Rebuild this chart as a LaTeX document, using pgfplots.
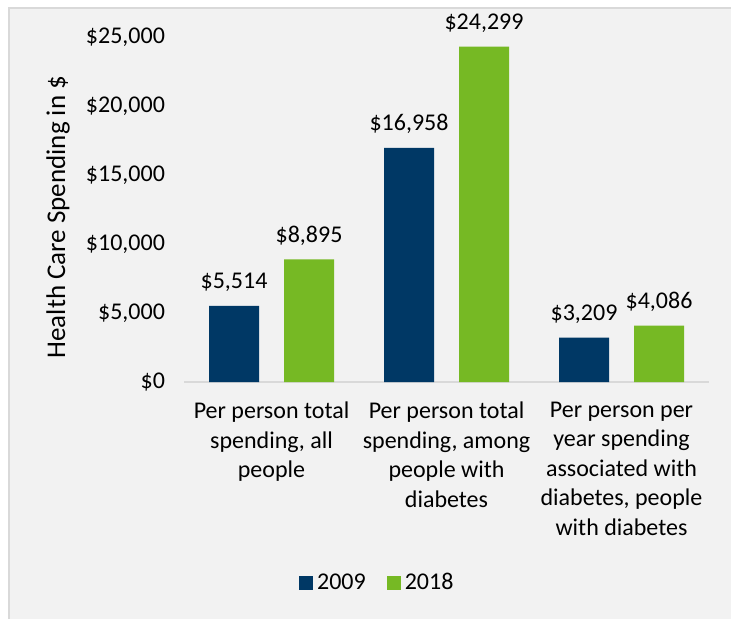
\documentclass[border=0pt]{standalone}
\usepackage{pgfplots}
\pgfplotsset{compat=1.18}
\usepackage{fontspec}
\setmainfont{Carlito}
\definecolor{navy}{RGB}{0,56,101}
\definecolor{leaf}{RGB}{118,185,36}
\definecolor{bg}{RGB}{242,242,242}
\definecolor{frame}{RGB}{217,217,217}

\begin{document}
\begin{tikzpicture}
\path[use as bounding box] (0,0) rectangle (365.5pt,-309.5pt);
\fill[bg] (4pt,-3.5pt) rectangle (365.5pt,-309.5pt);
\draw[frame, line width=1pt] (4.5pt,-309.5pt) -- (4.5pt,-4pt) -- (365.5pt,-4pt);
\begin{axis}[
    at={(92pt,-191pt)}, anchor=south west,
    scale only axis,
    width=262.5pt, height=172.5pt,
    ybar=12.5pt, bar width=25pt,
    xmin=-0.5, xmax=2.5,
    ymin=0, ymax=25000,
    xtick=data,
    xticklabels={{Per person total\\spending, all\\people},
                 {Per person total\\spending, among\\people with\\diabetes},
                 {Per person per\\year spending\\associated with\\diabetes, people\\with diabetes}},
    xticklabel style={align=center, anchor=north, yshift=-6.5pt,
                      font=\fontsize{12}{14.75}\selectfont},
    ytick={0,5000,...,25000},
    yticklabel={\$\pgfmathprintnumber{\tick}},
    yticklabel style={font=\fontsize{12}{14}\selectfont, xshift=-6pt},
    /pgf/number format/.cd, 1000 sep={,}, assume math mode=true, /pgfplots/.cd,
    scaled y ticks=false,
    major tick length=0pt,
    axis lines*=left,
    y axis line style={draw=none},
    x axis line style={draw=frame, line width=1pt},
    ylabel={Health Care Spending in \$},
    every axis y label/.style={at={(axis description cs:-0.24,0.478)},
                               rotate=90, anchor=center,
                               font=\fontsize{13.5}{16}\selectfont},
    nodes near coords={\$\pgfmathprintnumber{\pgfplotspointmeta}},
    nodes near coords style={anchor=base, yshift=8.5pt,
                             font=\fontsize{12}{14}\selectfont, text=black},
    clip=false,
    legend style={at={(0.37,-0.582)}, anchor=center, draw=none, fill=none,
                  legend columns=2, font=\fontsize{12}{14}\selectfont,
                  /tikz/every even column/.append style={column sep=8.5pt}},
    legend image code/.code={\fill[#1] (0pt,-3.5pt) rectangle (7pt,3.5pt);},
]
\addplot[fill=navy, draw=none] coordinates {(0,5514) (1,16958) (2,3209)};
\addplot[fill=leaf, draw=none] coordinates {(0,8895) (1,24299) (2,4086)};
\legend{2009, 2018}
\end{axis}
\end{tikzpicture}
\end{document}
